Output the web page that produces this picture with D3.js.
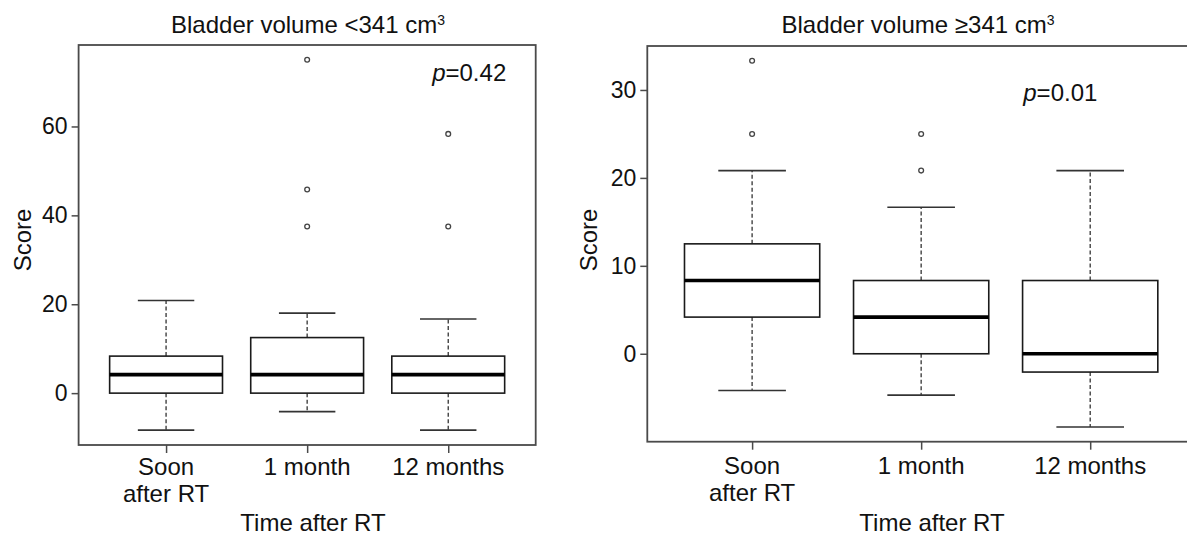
<!DOCTYPE html>
<html>
<head>
<meta charset="utf-8">
<script src="https://cdn.jsdelivr.net/npm/d3@7"></script>
<style>
  html, body { margin: 0; padding: 0; background: #fff; }
  svg text { font-family: "Liberation Sans", Arial, Helvetica, sans-serif; fill: #111; }
</style>
</head>
<body>
<svg id="chart" width="1187" height="537"></svg>
<script>
// ---- data ----
const categories = ["Soon\nafter RT", "1 month", "12 months"];

// Panel A: Bladder volume < 341 cm3
const lowA    = [-8.33, -4.17, -8.33];
const q1A     = [0, 0, 0];
const medA    = [4.17, 4.17, 4.17];
const q3A     = [8.33, 12.5, 8.33];
const highA   = [20.83, 18.0, 16.67];
const outA    = [[], [75, 45.83, 37.5], [58.33, 37.5]];
const ticksA  = [0, 20, 40, 60];
const pA      = "0.42";

// Panel B: Bladder volume >= 341 cm3
const lowB    = [-4.17, -4.7, -8.33];
const q1B     = [4.17, 0, -2.08];
const medB    = [8.33, 4.17, 0];
const q3B     = [12.5, 8.33, 8.33];
const highB   = [20.83, 16.67, 20.83];
const outB    = [[33.33, 25], [25, 20.83], []];
const ticksB  = [0, 10, 20, 30];
const pB      = "0.01";

const svg = d3.select("#chart");

function panel(cfg) {
  const n = categories.length;
  const x = d3.scaleLinear().domain([0.38, n + 0.62]).range([cfg.left, cfg.right]);
  const y = d3.scaleLinear().domain(cfg.ydom).range([cfg.bottom, cfg.top]);
  const g = svg.append("g");
  const boxW = x(1.4) - x(0.6);
  const capW = boxW / 2;
  const data = categories.map((c, i) => ({
    i: i + 1, low: cfg.low[i], q1: cfg.q1[i], med: cfg.med[i], q3: cfg.q3[i], high: cfg.high[i], out: cfg.out[i]
  }));

  // whiskers (dashed)
  const wg = g.append("g").attr("stroke", "#333").attr("stroke-width", 1.3).attr("stroke-dasharray", "4,2.5");
  wg.selectAll(".wu").data(data).join("line")
    .attr("x1", d => x(d.i)).attr("x2", d => x(d.i))
    .attr("y1", d => y(d.q3)).attr("y2", d => y(d.high));
  wg.selectAll(".wl").data(data).join("line").attr("class", "wl")
    .attr("x1", d => x(d.i)).attr("x2", d => x(d.i))
    .attr("y1", d => y(d.q1)).attr("y2", d => y(d.low));

  // caps
  const cg = g.append("g").attr("stroke", "#333").attr("stroke-width", 1.6);
  cg.selectAll(".cu").data(data).join("line")
    .attr("x1", d => x(d.i) - capW / 2).attr("x2", d => x(d.i) + capW / 2)
    .attr("y1", d => y(d.high)).attr("y2", d => y(d.high));
  cg.selectAll(".cl").data(data).join("line").attr("class", "cl")
    .attr("x1", d => x(d.i) - capW / 2).attr("x2", d => x(d.i) + capW / 2)
    .attr("y1", d => y(d.low)).attr("y2", d => y(d.low));

  // boxes
  g.selectAll(".box").data(data).join("rect").attr("class", "box")
    .attr("x", d => x(d.i) - boxW / 2).attr("width", boxW)
    .attr("y", d => y(d.q3)).attr("height", d => y(d.q1) - y(d.q3))
    .attr("fill", "#fff").attr("stroke", "#1a1a1a").attr("stroke-width", 1.6);

  // medians
  g.selectAll(".med").data(data).join("line").attr("class", "med")
    .attr("x1", d => x(d.i) - boxW / 2).attr("x2", d => x(d.i) + boxW / 2)
    .attr("y1", d => y(d.med)).attr("y2", d => y(d.med))
    .attr("stroke", "#000").attr("stroke-width", 3.6);

  // outliers
  const pts = data.flatMap(d => d.out.map(v => ({ i: d.i, v })));
  g.selectAll(".out").data(pts).join("circle").attr("class", "out")
    .attr("cx", d => x(d.i)).attr("cy", d => y(d.v)).attr("r", 2.4)
    .attr("fill", "none").attr("stroke", "#444").attr("stroke-width", 1.3);

  // frame
  g.append("rect").attr("x", cfg.left).attr("y", cfg.top)
    .attr("width", cfg.right - cfg.left).attr("height", cfg.bottom - cfg.top)
    .attr("fill", "none").attr("stroke", "#4a4a4a").attr("stroke-width", 1.8);

  // y axis
  const ya = g.append("g").attr("transform", `translate(${cfg.left},0)`)
    .call(d3.axisLeft(y).tickValues(cfg.ticks).tickSize(7).tickPadding(4).tickFormat(d3.format("d")));
  ya.select(".domain").remove();
  ya.selectAll(".tick line").attr("stroke", "#4a4a4a").attr("stroke-width", 1.5);
  ya.selectAll(".tick text").attr("font-size", 23).attr("fill", "#111")
    .style("font-family", '"Liberation Sans", Arial, sans-serif');

  // x axis
  const xa = g.append("g").attr("transform", `translate(0,${cfg.bottom})`)
    .call(d3.axisBottom(x).tickValues(d3.range(1, n + 1)).tickSize(8).tickFormat(""));
  xa.select(".domain").remove();
  xa.selectAll(".tick line").attr("stroke", "#4a4a4a").attr("stroke-width", 1.5);

  // category labels
  data.forEach((d, k) => {
    const lines = categories[k].split("\n");
    const t = g.append("text").attr("text-anchor", "middle").attr("font-size", 24)
      .attr("x", x(d.i)).attr("y", cfg.labY);
    lines.forEach((ln, j) => t.append("tspan").attr("x", x(d.i)).attr("dy", j === 0 ? 0 : 26.7).text(ln));
  });

  // axis titles
  g.append("text").attr("text-anchor", "middle").attr("font-size", 24)
    .attr("x", cfg.xtitleX).attr("y", 531).text("Time after RT");
  g.append("text").attr("text-anchor", "middle").attr("font-size", 24)
    .attr("transform", `translate(${cfg.ytitleX},${cfg.ytitleY}) rotate(-90)`).text("Score");

  // panel title
  const tt = g.append("text").attr("text-anchor", "middle").attr("font-size", 24)
    .attr("x", cfg.titleX).attr("y", 33);
  tt.append("tspan").text(cfg.title);
  tt.append("tspan").attr("font-size", 14).attr("dy", -8).text("3");

  // p value
  const pt = g.append("text").attr("font-size", 24)
    .attr("x", x(cfg.px)).attr("y", y(cfg.py));
  pt.append("tspan").attr("font-style", "italic").text("p");
  pt.append("tspan").text("=" + cfg.p);
}

panel({
  left: 78.6, right: 535.7, top: 45, bottom: 445, ydom: [-11.67, 78.33],
  low: lowA, q1: q1A, med: medA, q3: q3A, high: highA, out: outA, ticks: ticksA,
  labY: 475, xtitleX: 313, ytitleX: 31, ytitleY: 240, titleX: 308,
  title: "Bladder volume <341 cm", p: pA, px: 2.886, py: 70.2
});

panel({
  left: 647.3, right: 1195, top: 46, bottom: 441.7, ydom: [-10, 35],
  low: lowB, q1: q1B, med: medB, q3: q3B, high: highB, out: outB, ticks: ticksB,
  labY: 474, xtitleX: 932, ytitleX: 597, ytitleY: 240, titleX: 918,
  title: "Bladder volume \u2265341 cm", p: pB, px: 2.604, py: 28.8
});
</script>
</body>
</html>
